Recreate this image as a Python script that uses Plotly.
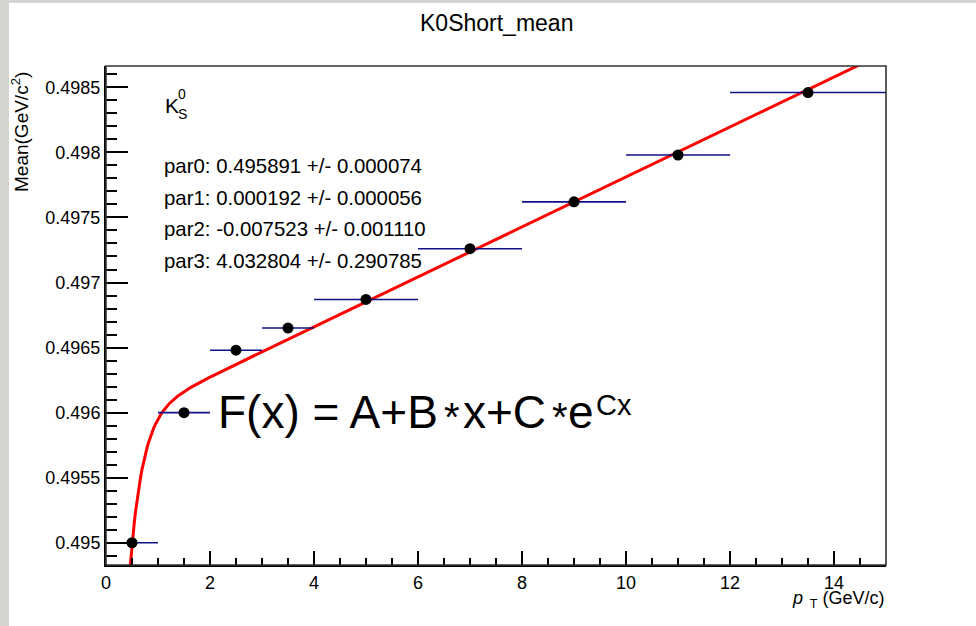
import numpy as np
import plotly.graph_objects as go

# pT bins (centres and half-widths) and fitted K0S mass means
pt_center = [0.5, 1.5, 2.5, 3.5, 5.0, 7.0, 9.0, 11.0, 13.5]
pt_halfwidth = [0.5, 0.5, 0.5, 0.5, 1.0, 1.0, 1.0, 1.0, 1.5]
mean_mass = [0.49500, 0.49600, 0.49648, 0.49665, 0.49687,
             0.49726, 0.49762, 0.49798, 0.49846]

# fit parameters: F(x) = par0 + par1*x + par2*exp(-par3*x)
par = [0.495891, 0.000192, -0.007523, 4.032804]
par_err = [0.000074, 0.000056, 0.001110, 0.290785]

y_tickvals = [0.495, 0.4955, 0.496, 0.4965, 0.497, 0.4975, 0.498, 0.4985]
y_ticktext = ["0.495", "0.4955", "0.496", "0.4965", "0.497", "0.4975", "0.498", "0.4985"]
x_tickvals = [0, 2, 4, 6, 8, 10, 12, 14]

FONT = "Liberation Sans, Arial, sans-serif"
W, H = 976, 626
L, R, T, B = 106, 886, 66, 565


def px(x):
    return (x - L) / (R - L)


def py(y):
    return (B - y) / (B - T)


x_fit = np.linspace(0.3, 15.0, 600)
y_fit = par[0] + par[1] * x_fit + par[2] * np.exp(-par[3] * x_fit)

fig = go.Figure()
fig.add_trace(go.Scatter(
    x=x_fit, y=y_fit, mode="lines",
    line=dict(color="#ff0000", width=3), hoverinfo="skip", showlegend=False,
))
fig.add_trace(go.Scatter(
    x=pt_center, y=mean_mass, mode="markers",
    marker=dict(color="black", size=11),
    error_x=dict(type="data", array=pt_halfwidth, color="#10108a", thickness=1.6, width=0),
    showlegend=False,
))

annotations = [
    dict(text="K0Short_mean", x=496, y=23, size=23),
    dict(text="K", x=163, y=106, size=21, xanchor="left"),
    dict(text="0", x=176, y=94, size=14, xanchor="left"),
    dict(text="S", x=176, y=114, size=14, xanchor="left"),
    # fit function label, pieced together so the multiplication signs sit low and small
    dict(text="F(x) = A+B", x=216, y=412, size=46, xanchor="left"),
    dict(text="*", x=452, y=417, size=40),
    dict(text="x+C", x=461, y=412, size=46, xanchor="left"),
    dict(text="*", x=560, y=417, size=40),
    dict(text="e", x=566, y=412, size=46, xanchor="left"),
    dict(text="Cx", x=594, y=405, size=29, xanchor="left"),
    dict(text="Mean(GeV/c<sup>2</sup>)", x=20, y=132, size=19, textangle=-90),
    dict(text="<i>p</i><sub>  T</sub> (GeV/c)", x=887, y=599, size=18, xanchor="right"),
]
for i in range(4):
    annotations.append(dict(
        text=f"par{i}: {par[i]:.6f} +/- {par_err[i]:.6f}",
        x=162, y=166 + 31.5 * i, size=20.4, xanchor="left",
    ))

layout_ann = []
for a in annotations:
    layout_ann.append(dict(
        text=a["text"], xref="paper", yref="paper",
        x=px(a["x"]), y=py(a["y"]),
        xanchor=a.get("xanchor", "center"), yanchor="middle",
        textangle=a.get("textangle", 0),
        showarrow=False, font=dict(family=FONT, size=a["size"], color="black"),
    ))

shapes = [
    # plot frame
    dict(type="rect", xref="paper", yref="paper", x0=0, x1=1, y0=0, y1=1,
         line=dict(color="#333333", width=1.6), layer="above"),
    # grey slide border
    dict(type="rect", xref="paper", yref="paper",
         x0=px(0), x1=px(9), y0=py(H), y1=py(0),
         line=dict(width=0), fillcolor="#d4d4d0", layer="below"),
    dict(type="rect", xref="paper", yref="paper",
         x0=px(0), x1=px(W), y0=py(3), y1=py(0),
         line=dict(width=0), fillcolor="#d4d4d0", layer="below"),
]

fig.update_layout(
    width=W, height=H,
    margin=dict(l=L, r=W - R, t=T, b=H - B),
    paper_bgcolor="white", plot_bgcolor="white",
    font=dict(family=FONT, color="black"),
    annotations=layout_ann, shapes=shapes,
    showlegend=False,
)
fig.update_xaxes(
    range=[0, 15], tickvals=x_tickvals, ticks="inside", ticklen=14, tickwidth=1.5,
    tickcolor="black", showgrid=False, zeroline=False,
    showline=True, linecolor="black", linewidth=2,
    tickfont=dict(family=FONT, size=18, color="black"),
    minor=dict(dtick=0.5, tick0=0, ticks="inside", ticklen=7, tickwidth=1.5,
               tickcolor="black", showgrid=False),
)
fig.update_yaxes(
    range=[0.494829, 0.498664], tickvals=y_tickvals, ticktext=y_ticktext,
    ticks="inside", ticklen=22, tickwidth=1.5, tickcolor="black",
    showgrid=False, zeroline=False,
    showline=True, linecolor="black", linewidth=2,
    tickfont=dict(family=FONT, size=18, color="black"),
    minor=dict(dtick=0.0001, tick0=0.495, ticks="inside", ticklen=11, tickwidth=1.5,
               tickcolor="black", showgrid=False),
)

fig.write_html("out.html")
